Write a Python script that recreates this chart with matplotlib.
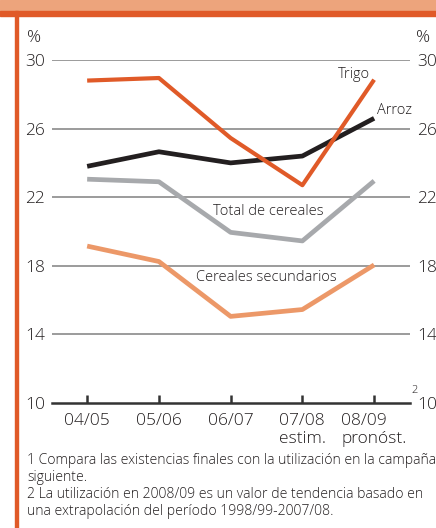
import matplotlib
matplotlib.use("Agg")
import matplotlib.pyplot as plt
from matplotlib.patches import Rectangle

plt.rcParams['font.family'] = ['Open Sans', 'DejaVu Sans']
plt.rcParams['font.weight'] = 300

# campañas
campanas = ["04/05", "05/06", "06/07", "07/08\nestim.", "08/09\npronóst."]

# relación existencias/utilización (%)
trigo = [28.8, 28.95, 25.45, 22.7, 28.85]
arroz = [23.8, 24.65, 24.0, 24.4, 26.6]
total = [23.05, 22.9, 19.95, 19.45, 22.95]
secundarios = [19.15, 18.25, 15.05, 15.45, 18.05]

yticks = [10, 14, 18, 22, 26, 30]

naranja = '#E05A28'
naranja_claro = '#EC9868'
gris = '#A7A9AC'
negro = '#231F20'

W, H = 436, 528
fig = plt.figure(figsize=(W / 100, H / 100), dpi=100)

# marco naranja
fig.patches.append(Rectangle((0, 1 - 11 / H), 1, 11 / H, transform=fig.transFigure,
                             color='#EDA47C', zorder=0))
fig.patches.append(Rectangle((0, 1 - 16 / H), 1, 5 / H, transform=fig.transFigure,
                             color=naranja, zorder=0))
fig.patches.append(Rectangle((15 / W, 0), 2.5 / W, 1 - 11 / H, transform=fig.transFigure,
                             color=naranja, zorder=0))

ax = fig.add_axes([52 / W, 1 - 403 / H, (410 - 52) / W, (403 - 60) / H])
x = list(range(len(campanas)))

for v in yticks[1:]:
    ax.axhline(v, color='#808080', lw=1.1, zorder=1)

ax.plot(x, secundarios, color=naranja_claro, lw=3.4, zorder=3, solid_capstyle='butt')
ax.plot(x, total, color=gris, lw=3.4, zorder=3, solid_capstyle='butt')
ax.plot(x, arroz, color=negro, lw=3.4, zorder=4, solid_capstyle='butt')
ax.plot(x, trigo, color=naranja, lw=3.0, zorder=5, solid_capstyle='butt')

ax.set_xlim(-0.49, 4.5)
ax.set_ylim(10, 30)
ax.set_xticks(x)
ax.set_xticklabels(campanas, fontsize=12.5, color='#231F20', multialignment='left')
ax.set_yticks(yticks)
ax.set_yticklabels([str(v) for v in yticks])
ax.tick_params(axis='x', direction='in', length=6, width=1.8, color='#333333', pad=7)
ax.tick_params(axis='y', length=0, labelsize=12.5, labelcolor='#231F20',
               labelleft=True, labelright=True, pad=5)
for s in ['top', 'left', 'right']:
    ax.spines[s].set_visible(False)
ax.spines['bottom'].set_color('#333333')
ax.spines['bottom'].set_linewidth(1.8)

ax.text(4.52, 10.75, '2', fontsize=8, color='#231F20', ha='left', va='center', clip_on=False)

# etiquetas de series
ax.text(3.94, 29.18, 'Trigo', fontsize=10.5, color='#231F20', ha='right', va='center')
ax.text(4.04, 27.08, 'Arroz', fontsize=10.5, color='#231F20', ha='left', va='center')
ax.text(2.53, 21.15, 'Total de cereales', fontsize=10.5, color='#231F20', ha='center', va='center')
ax.text(2.50, 17.29, 'Cereales secundarios', fontsize=10.5, color='#231F20', ha='center', va='center')

fig.text(27 / W, 1 - 38 / H, '%', fontsize=12.5, color='#231F20', ha='left', va='center')
fig.text(416 / W, 1 - 38 / H, '%', fontsize=12.5, color='#231F20', ha='left', va='center')

notas = [
    "1 Compara las existencias finales con la utilización en la campaña",
    "siguiente.",
    "2 La utilización en 2008/09 es un valor de tendencia basado en",
    "una extrapolación del período 1998/99-2007/08.",
]
for i, t in enumerate(notas):
    fig.text(27 / W, 1 - (461 + 16.7 * i) / H, t, fontsize=10.1, color='#231F20',
             ha='left', va='center')

fig.savefig('out.png', dpi=100)
